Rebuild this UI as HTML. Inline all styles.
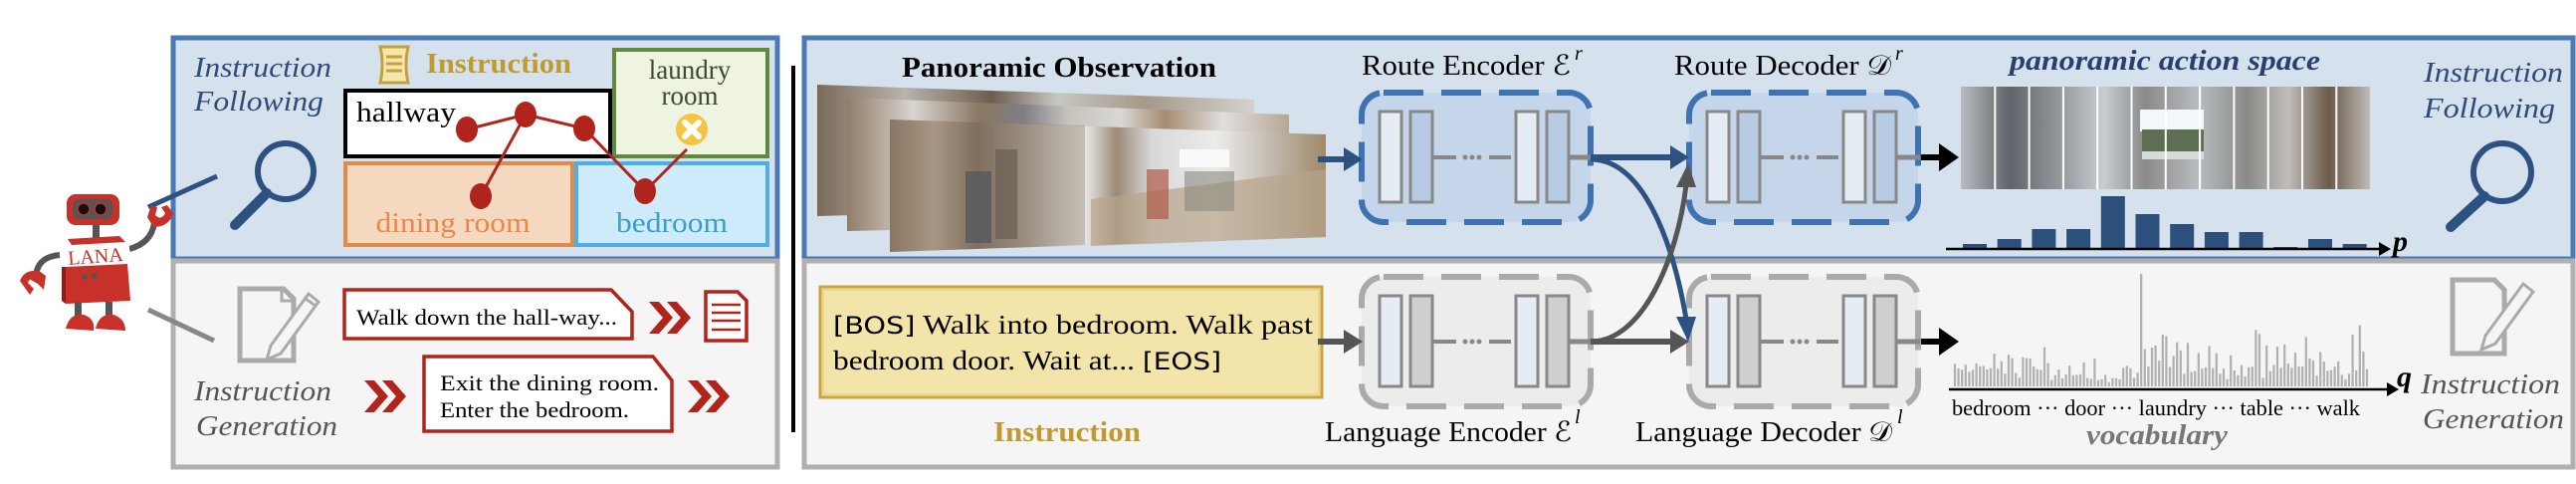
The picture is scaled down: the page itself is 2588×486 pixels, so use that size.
<!DOCTYPE html>
<html><head><meta charset="utf-8"><style>
html,body{margin:0;padding:0;background:#fff;}
svg{display:block;}
text{font-family:"Liberation Serif",serif;}
</style></head><body>
<svg id="s" width="2588" height="486" viewBox="0 0 2588 486" xmlns="http://www.w3.org/2000/svg">
<defs>
<linearGradient id="pa" x1="0" x2="1" y1="0" y2="0">
<stop offset="0" stop-color="#7a6a58"/><stop offset="0.2" stop-color="#b9b3ab"/><stop offset="0.4" stop-color="#6d5d4e"/><stop offset="0.55" stop-color="#c8c6c2"/><stop offset="0.75" stop-color="#a59988"/><stop offset="1" stop-color="#d4d2ce"/></linearGradient>
<linearGradient id="pb" x1="0" x2="1" y1="0" y2="0">
<stop offset="0" stop-color="#907d68"/><stop offset="0.15" stop-color="#d8d4cf"/><stop offset="0.3" stop-color="#8a7764"/><stop offset="0.4" stop-color="#7f7f82"/><stop offset="0.5" stop-color="#c7c3bd"/><stop offset="0.62" stop-color="#d9d8d6"/><stop offset="0.72" stop-color="#a48c70"/><stop offset="0.85" stop-color="#e0dfdd"/><stop offset="1" stop-color="#b7a792"/></linearGradient>
<linearGradient id="pf" x1="0" x2="1" y1="0" y2="0">
<stop offset="0" stop-color="#8a7560"/><stop offset="0.1" stop-color="#b8a894"/><stop offset="0.2" stop-color="#7a6a5a"/><stop offset="0.3" stop-color="#a09488"/><stop offset="0.38" stop-color="#c8c4be"/><stop offset="0.45" stop-color="#e8e6e2"/><stop offset="0.52" stop-color="#9a8a76"/><stop offset="0.6" stop-color="#d8d8d8"/><stop offset="0.75" stop-color="#ecebea"/><stop offset="0.88" stop-color="#c0b8ac"/><stop offset="1" stop-color="#a08868"/></linearGradient>
<linearGradient id="pc" x1="0" x2="1" y1="0" y2="0">
<stop offset="0" stop-color="#b8bcc0"/><stop offset="0.12" stop-color="#60646a"/><stop offset="0.25" stop-color="#989ca0"/><stop offset="0.35" stop-color="#c8cdd2"/><stop offset="0.45" stop-color="#8a8a88"/><stop offset="0.58" stop-color="#b8bcc0"/><stop offset="0.7" stop-color="#8a8a88"/><stop offset="0.8" stop-color="#c0bdb8"/><stop offset="0.9" stop-color="#6a5a4a"/><stop offset="1" stop-color="#c0bcb6"/></linearGradient>
</defs>

<!-- LEFT PANEL -->
<rect x="174" y="38" width="607" height="222" fill="#d6e1ee" stroke="#4a7ab5" stroke-width="5"/>
<rect x="174" y="262" width="607" height="207" fill="#f5f5f5" stroke="#b0b0b0" stroke-width="5"/>

<text x="195" y="77" font-size="29" font-style="italic" fill="#2f4a78" textLength="138" lengthAdjust="spacingAndGlyphs">Instruction</text>
<text x="195" y="111" font-size="29" font-style="italic" fill="#2f4a78" textLength="130" lengthAdjust="spacingAndGlyphs">Following</text>
<circle cx="287" cy="172" r="28" fill="none" stroke="#2d5282" stroke-width="6"/>
<line x1="268" y1="194" x2="236" y2="226" stroke="#2d5282" stroke-width="10" stroke-linecap="round"/>
<line x1="149" y1="208" x2="218" y2="177" stroke="#2d5282" stroke-width="5"/>

<g stroke="#c4a238" stroke-width="3" fill="#f5e6b0">
<path d="M382 47 h28 q-4 18 0 36 h-28 q4 -18 0 -36z"/>
<line x1="388" y1="57" x2="404" y2="57"/><line x1="388" y1="64" x2="404" y2="64"/><line x1="388" y1="71" x2="404" y2="71"/>
</g>
<text x="428" y="73" font-size="28" font-weight="bold" fill="#c09a30" textLength="146" lengthAdjust="spacingAndGlyphs">Instruction</text>

<rect x="347" y="91" width="266" height="66" fill="#fff" stroke="#000" stroke-width="4"/>
<text x="358" y="122" font-size="28" fill="#000" textLength="100" lengthAdjust="spacingAndGlyphs">hallway</text>
<rect x="617" y="50" width="154" height="107" fill="#eef3e2" stroke="#5f8a3c" stroke-width="4"/>
<text x="693" y="79" font-size="27" fill="#3a4a2a" text-anchor="middle">laundry</text>
<text x="693" y="105" font-size="27" fill="#3a4a2a" text-anchor="middle">room</text>
<rect x="347" y="164" width="228" height="82" fill="#f4d8c0" stroke="#e28a4a" stroke-width="4"/>
<text x="455" y="233" font-size="29" fill="#e8894a" text-anchor="middle" textLength="155" lengthAdjust="spacingAndGlyphs">dining room</text>
<rect x="579" y="164" width="192" height="82" fill="#cdebfb" stroke="#4eafe8" stroke-width="4"/>
<text x="675" y="233" font-size="29" fill="#3a9ec8" text-anchor="middle" textLength="112" lengthAdjust="spacingAndGlyphs">bedroom</text>
<g stroke="#b0241c" stroke-width="3" fill="none">
<polyline points="469,130 528,115 587,129 648,192 690,150"/>
<line x1="528" y1="115" x2="483" y2="197"/>
</g>
<g fill="#b0241c">
<ellipse cx="469" cy="130" rx="11" ry="13"/><ellipse cx="528" cy="115" rx="11" ry="13"/><ellipse cx="587" cy="129" rx="11" ry="13"/><ellipse cx="648" cy="192" rx="11" ry="13"/><ellipse cx="483" cy="197" rx="11" ry="13"/>
</g>
<circle cx="695" cy="130" r="16" fill="#f5c542"/>
<g stroke="#fff" stroke-width="6" stroke-linecap="round"><line x1="688" y1="123" x2="702" y2="137"/><line x1="702" y1="123" x2="688" y2="137"/></g>

<!-- robot -->
<g>
<path d="M36 280 q0 -22 24 -24" stroke="#555" stroke-width="6" fill="none"/>
<path d="M130 250 q22 -6 25 -26" stroke="#555" stroke-width="6" fill="none"/>
<path d="M20 282 q4 -10 14 -10 l4 6 q-8 0 -10 6 l6 6 l-4 6z" fill="#c8302a"/>
<path d="M24 277 l14 -6 l8 6 l-2 14 l-6 -6z" fill="#c8302a"/>
<path d="M148 218 l4 -12 l6 2 l-2 8 q6 6 10 -2 l-4 -6 l6 -2 l6 8 q-4 14 -20 14z" fill="#c8302a"/>
<rect x="93" y="225" width="7" height="15" fill="#555"/>
<rect x="67" y="195" width="53" height="31" rx="9" fill="#c8302a"/>
<rect x="73" y="200" width="40" height="20" rx="7" fill="#555"/>
<circle cx="84" cy="210" r="6" fill="#111" stroke="#c8302a" stroke-width="1.5"/><circle cx="101" cy="210" r="6" fill="#111" stroke="#c8302a" stroke-width="1.5"/>
<polygon points="68,240 120,237 126,243 72,246" fill="#c8302a"/>
<rect x="62" y="246" width="68" height="20" fill="#fff"/>
<text x="96" y="264" font-size="20" fill="#c8302a" text-anchor="middle" transform="rotate(-4 96 258)">LANA</text>
<polygon points="66,268 128,265 131,302 66,305" fill="#c8302a"/>
<polygon points="62,268 66,268 66,305 62,302" fill="#8a1e1a"/>
<circle cx="85" cy="278" r="3" fill="#555"/><circle cx="95" cy="277" r="3" fill="#555"/>
<rect x="75" y="303" width="7" height="15" fill="#555"/><rect x="106" y="303" width="7" height="15" fill="#555"/>
<path d="M66 330 q4 -16 18 -14 q12 4 10 16z" fill="#c8302a"/>
<path d="M96 330 q4 -16 18 -14 q12 4 12 16z" fill="#c8302a"/>
</g>
<line x1="149" y1="311" x2="215" y2="342" stroke="#888" stroke-width="5"/>

<g stroke="#aaa" stroke-width="5" fill="none">
<path d="M241 290 h44 l10 10 v62 h-54z"/>
<path d="M283 290 v12 h10" stroke-width="3"/>
</g>
<g fill="#f5f5f5" stroke="#aaa" stroke-width="3">
<path d="M310 295 l10 8 l-38 52 l-14 6 l4 -14z"/>
<line x1="307" y1="300" x2="317" y2="307"/>
</g>
<text x="195" y="402" font-size="29" font-style="italic" fill="#555" textLength="138" lengthAdjust="spacingAndGlyphs">Instruction</text>
<text x="197" y="437" font-size="29" font-style="italic" fill="#555" textLength="142" lengthAdjust="spacingAndGlyphs">Generation</text>

<path d="M346 291 h268 l21 22 v27 h-289z" fill="#fff" stroke="#b0241c" stroke-width="3.5"/>
<text x="358" y="326" font-size="22" fill="#000" textLength="262" lengthAdjust="spacingAndGlyphs">Walk down the hall-way...</text>
<g fill="#b0241c">
<path d="M652 303 l10 0 l14 16 l-14 16 l-10 0 l14 -16z"/><path d="M670 303 l10 0 l14 16 l-14 16 l-10 0 l14 -16z"/>
<path d="M366 382 l10 0 l14 16 l-14 16 l-10 0 l14 -16z"/><path d="M384 382 l10 0 l14 16 l-14 16 l-10 0 l14 -16z"/>
<path d="M691 382 l10 0 l14 16 l-14 16 l-10 0 l14 -16z"/><path d="M709 382 l10 0 l14 16 l-14 16 l-10 0 l14 -16z"/>
</g>
<path d="M709 293 h32 l9 9 v40 h-41z" fill="#fff" stroke="#b0241c" stroke-width="3.5"/>
<g stroke="#b0241c" stroke-width="2.5"><line x1="715" y1="306" x2="744" y2="306"/><line x1="715" y1="314" x2="744" y2="314"/><line x1="715" y1="322" x2="744" y2="322"/><line x1="715" y1="331" x2="744" y2="331"/></g>
<path d="M426 358 h230 l19 24 v51 h-249z" fill="#fff" stroke="#b0241c" stroke-width="3.5"/>
<text x="442" y="392" font-size="22" fill="#000" textLength="220" lengthAdjust="spacingAndGlyphs">Exit the dining room.</text>
<text x="442" y="419" font-size="22" fill="#000" textLength="190" lengthAdjust="spacingAndGlyphs">Enter the bedroom.</text>

<line x1="797" y1="66" x2="797" y2="434" stroke="#000" stroke-width="4"/>

<!-- RIGHT PANEL -->
<rect x="808" y="38" width="1777" height="222" fill="#d6e1ee" stroke="#4a7ab5" stroke-width="5"/>
<rect x="808" y="262" width="1777" height="207" fill="#f5f5f5" stroke="#b0b0b0" stroke-width="5"/>

<text x="1064" y="77" font-size="29" font-weight="bold" fill="#000" text-anchor="middle" textLength="316" lengthAdjust="spacingAndGlyphs">Panoramic Observation</text>
<polygon points="821,85 1260,100 1260,205 821,217" fill="url(#pa)"/>
<polygon points="851,98 1295,115 1295,222 851,232" fill="url(#pb)"/>
<polygon points="894,120 1332,135 1332,238 894,253" fill="url(#pf)"/>
<polygon points="894,120 1090,126 1090,246 894,253" fill="#8a7866" opacity="0.35"/>
<rect x="970" y="172" width="26" height="72" fill="#5d5e60"/>
<rect x="1000" y="150" width="22" height="90" fill="#6a5e52" opacity="0.7"/>
<polygon points="1096,200 1332,170 1332,238 1096,247" fill="#b8a48a" opacity="0.7"/>
<rect x="1152" y="170" width="22" height="50" fill="#b05a48" opacity="0.7"/>
<rect x="1185" y="150" width="50" height="18" fill="#fafafa"/>
<rect x="1190" y="172" width="50" height="40" fill="#8a8a80" opacity="0.6"/>

<text x="1368" y="75" font-size="28" fill="#000" textLength="210" lengthAdjust="spacingAndGlyphs">Route Encoder ℰ</text>
<text x="1582" y="60" font-size="20" font-style="italic" fill="#000">r</text>
<text x="1682" y="75" font-size="28" fill="#000" textLength="218" lengthAdjust="spacingAndGlyphs">Route Decoder 𝒟</text>
<text x="1904" y="60" font-size="20" font-style="italic" fill="#000">r</text>
<text x="1331" y="443" font-size="28" fill="#000" textLength="248" lengthAdjust="spacingAndGlyphs">Language Encoder ℰ</text>
<text x="1582" y="425" font-size="20" font-style="italic" fill="#000">l</text>
<text x="1643" y="443" font-size="28" fill="#000" textLength="258" lengthAdjust="spacingAndGlyphs">Language Decoder 𝒟</text>
<text x="1906" y="425" font-size="20" font-style="italic" fill="#000">l</text>

<g id="encs"></g>

<rect x="824" y="288" width="504" height="111" fill="#f3e4aa" stroke="#c9a640" stroke-width="3"/>
<rect x="827" y="291" width="498" height="105" fill="none" stroke="#e0c878" stroke-width="1"/>
<text x="837" y="335" font-size="27" fill="#000" textLength="482" lengthAdjust="spacingAndGlyphs"><tspan font-family="DejaVu Sans, sans-serif" font-size="24">[BOS]</tspan> Walk into bedroom. Walk past</text>
<text x="837" y="371" font-size="27" fill="#000" textLength="390" lengthAdjust="spacingAndGlyphs">bedroom door. Wait at... <tspan font-family="DejaVu Sans, sans-serif" font-size="24">[EOS]</tspan></text>
<text x="1072" y="443" font-size="28" font-weight="bold" fill="#c09a30" text-anchor="middle" textLength="148" lengthAdjust="spacingAndGlyphs">Instruction</text>

<line x1="1324" y1="160" x2="1352" y2="160" stroke="#2d5282" stroke-width="6"/>
<polygon points="1350,148 1369,160 1350,172" fill="#2d5282"/>
<line x1="1324" y1="343" x2="1352" y2="343" stroke="#555" stroke-width="6"/>
<polygon points="1350,331 1369,343 1350,355" fill="#555"/>
<line x1="1598" y1="158" x2="1680" y2="158" stroke="#2d5282" stroke-width="6"/>
<polygon points="1678,146 1697,158 1678,170" fill="#2d5282"/>
<line x1="1598" y1="343" x2="1680" y2="343" stroke="#555" stroke-width="6"/>
<polygon points="1678,331 1697,343 1678,355" fill="#555"/>
<path d="M1598 160 C1650 160 1680 240 1694 320" stroke="#2d5282" stroke-width="5" fill="none"/>
<polygon points="1684,318 1704,318 1696,343" fill="#2d5282"/>
<path d="M1598 343 C1650 343 1685 260 1694 186" stroke="#555" stroke-width="5" fill="none"/>
<polygon points="1684,188 1704,188 1696,164" fill="#555"/>
<line x1="1930" y1="158" x2="1950" y2="158" stroke="#000" stroke-width="6"/>
<polygon points="1948,144 1968,158 1948,172" fill="#000"/>
<line x1="1930" y1="343" x2="1950" y2="343" stroke="#000" stroke-width="6"/>
<polygon points="1948,329 1968,343 1948,357" fill="#000"/>

<text x="2175" y="70" font-size="28" font-weight="bold" font-style="italic" fill="#2a3f6e" text-anchor="middle" textLength="312" lengthAdjust="spacingAndGlyphs">panoramic action space</text>
<rect x="1970" y="87" width="411" height="103" fill="url(#pc)"/>
<rect x="2150" y="110" width="64" height="22" fill="#f4f7fa"/>
<rect x="2152" y="130" width="62" height="22" fill="#5e7054"/>
<rect x="2152" y="152" width="62" height="8" fill="#d8dcd8"/>
<g id="vl"></g>
<g id="bars" fill="#2d4f7c"></g>
<line x1="1955" y1="250" x2="2392" y2="250" stroke="#000" stroke-width="2.5"/>
<polygon points="2390,243 2402,250 2390,257" fill="#000"/>
<text x="2404" y="252" font-size="30" font-weight="bold" font-style="italic" fill="#000">p</text>

<text x="2435" y="82" font-size="29" font-style="italic" fill="#2f4a78" textLength="140" lengthAdjust="spacingAndGlyphs">Instruction</text>
<text x="2435" y="118" font-size="29" font-style="italic" fill="#2f4a78" textLength="132" lengthAdjust="spacingAndGlyphs">Following</text>
<circle cx="2514" cy="173" r="29" fill="none" stroke="#2d5282" stroke-width="6"/>
<line x1="2496" y1="197" x2="2462" y2="228" stroke="#2d5282" stroke-width="10" stroke-linecap="round"/>

<g id="vb" stroke="#b0b0b0" stroke-width="2.2"></g>
<line x1="1958" y1="391" x2="2400" y2="391" stroke="#000" stroke-width="2.5"/>
<polygon points="2398,384 2410,391 2398,398" fill="#000"/>
<text x="2408" y="388" font-size="30" font-weight="bold" font-style="italic" fill="#000">q</text>
<text x="1961" y="417" font-size="22" font-family="Liberation Sans Narrow, Liberation Sans, sans-serif" fill="#000" textLength="410" lengthAdjust="spacingAndGlyphs">bedroom ··· door ··· laundry ··· table   ··· walk</text>
<text x="2167" y="446" font-size="28" font-weight="bold" font-style="italic" fill="#777" text-anchor="middle" textLength="142" lengthAdjust="spacingAndGlyphs">vocabulary</text>

<g stroke="#aaa" stroke-width="5" fill="none">
<path d="M2464 281 h42 l10 10 v64 h-52z"/>
</g>
<g fill="#f5f5f5" stroke="#aaa" stroke-width="3">
<path d="M2535 285 l10 8 l-38 52 l-14 6 l4 -14z"/>
</g>
<text x="2432" y="395" font-size="29" font-style="italic" fill="#555" textLength="140" lengthAdjust="spacingAndGlyphs">Instruction</text>
<text x="2434" y="430" font-size="29" font-style="italic" fill="#555" textLength="142" lengthAdjust="spacingAndGlyphs">Generation</text>
</svg>
<script>
var NS="http://www.w3.org/2000/svg";
function el(p,t,a){var e=document.createElementNS(NS,t);for(var k in a)e.setAttribute(k,a[k]);p.appendChild(e);return e;}
var g=document.getElementById("encs");
function block(x,y,stroke,fill,bar){
 el(g,"rect",{x:x,y:y,width:230,height:130,rx:22,fill:fill,stroke:stroke,"stroke-width":6,"stroke-dasharray":"40 18"});
 var xs=[18,49,155,186];
 for(var i=0;i<4;i++) el(g,"rect",{x:x+xs[i],y:y+19,width:22,height:91,fill:(i%2?bar:"#e6ecf3"),stroke:"#888","stroke-width":3});
 el(g,"line",{x1:x+72,y1:y+65,x2:x+95,y2:y+65,stroke:"#888","stroke-width":4});
 el(g,"line",{x1:x+128,y1:y+65,x2:x+150,y2:y+65,stroke:"#888","stroke-width":4});
 for(var j=0;j<3;j++) el(g,"circle",{cx:x+104+j*7,cy:y+65,r:2.5,fill:"#888"});
 el(g,"line",{x1:x+208,y1:y+65,x2:x+232,y2:y+65,stroke:"#888","stroke-width":5});
}
block(1368,93,"#3f72b0","#c6d6ea","#b7cbe5");
block(1697,93,"#3f72b0","#c6d6ea","#b7cbe5");
block(1368,278,"#aaa","#ececec","#cfcfcf");
block(1697,278,"#aaa","#ececec","#cfcfcf");
var vl=document.getElementById("vl");
for(var i=1;i<12;i++) el(vl,"line",{x1:1970+i*34.3,y1:87,x2:1970+i*34.3,y2:190,stroke:"#fff","stroke-width":2});
var h=[5,10,20,20,53,35,25,17,17,2,10,5],b=document.getElementById("bars");
for(var i=0;i<12;i++) el(b,"rect",{x:1972+i*34.7,y:250-h[i],width:24,height:h[i]});
var vb=document.getElementById("vb"),s=7;
function r(){s=(s*9301+49297)%233280;return s/233280;}
for(var x=1964;x<2378;x+=3.6){var hh=6+r()*r()*55+r()*12; if(x>2050&&x<2140)hh*=0.6; if(Math.abs(x-2150)<2)hh=113; el(vb,"line",{x1:x,y1:388,x2:x,y2:388-hh});}
</script>
</body></html>
